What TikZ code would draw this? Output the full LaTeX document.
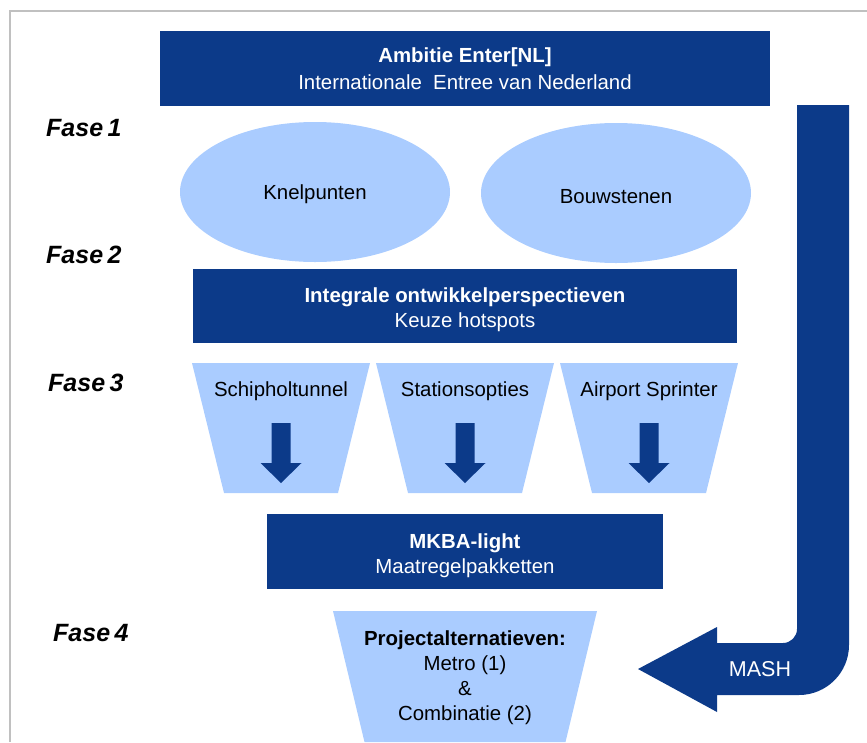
\documentclass[tikz,border=0pt]{standalone}
\usepackage{fontspec}
\setmainfont{Liberation Sans}
\usepackage{tikz}
\usetikzlibrary{shapes.geometric}

\definecolor{enterblue}{RGB}{12,58,137}
\definecolor{lightblue}{RGB}{170,204,255}
\definecolor{framegray}{RGB}{192,192,192}

\tikzset{
  darkbox/.style={fill=enterblue, inner sep=0pt},
  bubble/.style={ellipse, fill=lightblue, inner sep=0pt,
                 minimum width=270pt, minimum height=140pt},
  fase/.style={anchor=west, inner sep=0pt,
               font=\fontsize{25}{28}\selectfont\bfseries\itshape},
  plain/.style={inner sep=0pt, align=center, font=\fontsize{20.4}{25}\selectfont}
}

\begin{document}
\begin{tikzpicture}[x=1pt, y=-1pt]
\useasboundingbox (0,0) rectangle (867,742);
%frame
\draw[framegray, line width=2pt] (10,742) -- (10,11) -- (867,11);
%ambition
\node[darkbox, minimum width=610pt, minimum height=75pt] (ambitie) at (465,68.5) {};
\node[plain, text=white] (ambitietxt) at (465,69)
  {\textbf{Ambitie Enter[NL]}\\[2pt]Internationale\ \ Entree van Nederland};
%phase labels
\node[fase] (fase1) at (46,128) {Fase\hspace{4.5pt}1};
\node[fase] (fase2) at (46,255) {Fase\hspace{4.5pt}2};
\node[fase] (fase3) at (48,383) {Fase\hspace{4.5pt}3};
\node[fase] (fase4) at (53,633) {Fase\hspace{4.5pt}4};
%bottlenecks and building blocks
\node[bubble] (knelpunten) at (315,192) {};
\node[plain] (knelpuntentxt) at (315,194) {Knelpunten};
\node[bubble] (bouwstenen) at (616,193) {};
\node[plain] (bouwstenentxt) at (616,197) {Bouwstenen};
%perspectives
\node[darkbox, minimum width=544pt, minimum height=74pt] (integraal) at (465,306) {};
\node[plain, text=white] (integraaltxt) at (465,310)
  {\textbf{Integrale ontwikkelperspectieven}\\Keuze hotspots};
%hotspot funnels
\foreach \c/\name/\lbl in {281/tunnel/Schipholtunnel, 465/station/Stationsopties,
                           649/sprinter/Airport Sprinter}
{
  \fill[lightblue] (\c-89,363) -- (\c+89,363) -- (\c+57,493) -- (\c-57,493) -- cycle;
  \node[plain] (\name) at (\c,391) {\lbl};
  % arrow down
  \fill[enterblue] (\c-9.5,423) -- (\c+9.5,423) -- (\c+9.5,463) -- (\c+20.5,463)
                   -- (\c,483) -- (\c-20.5,463) -- (\c-9.5,463) -- cycle;
}
%cost benefit
\node[darkbox, minimum width=396pt, minimum height=75pt] (mkba) at (465,551.5) {};
\node[plain, text=white] (mkbatxt) at (465,556)
  {\textbf{MKBA-light}\\Maatregelpakketten};
%project alternatives
\fill[lightblue] (333,611) -- (597,611) -- (565.5,742) -- (364.5,742) -- cycle;
\node[plain] (alternatieven) at (465,677.5)
  {\textbf{Projectalternatieven:}\\Metro (1)\\\&\\Combinatie (2)};
%mash return arrow
\fill[enterblue] (797,105) -- (849,105) -- (849,645)
  .. controls (849,672.6) and (826.6,695) .. (799,695)
  -- (717,695) -- (717,712) -- (638,669) -- (717,627) -- (717,643) -- (783,643)
  .. controls (790.7,643) and (797,636.7) .. (797,629) -- cycle;
\node[plain, text=white, font=\fontsize{21.5}{25}\selectfont] (mash) at (760,669) {MASH};
\end{tikzpicture}
\end{document}
